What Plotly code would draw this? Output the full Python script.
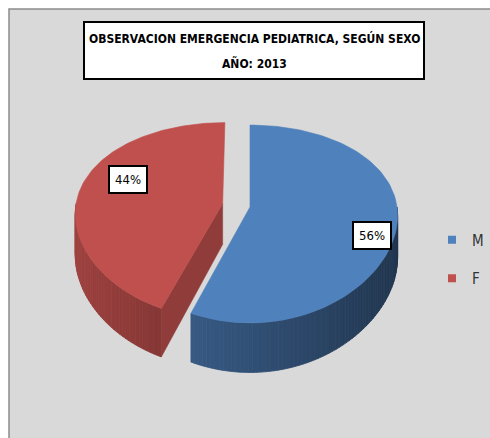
import numpy as np
import plotly.graph_objects as go

# ---- data ----
categories = ["M", "F"]
values = [56, 44]
slice_colors = ["#4F81BD", "#C0504D"]
explode = [0.0, 0.19]
title_lines = ["OBSERVACION EMERGENCIA PEDIATRICA, SEGÚN SEXO", "AÑO: 2013"]

# ---- page / geometry constants (pixel space of the window) ----
W, H = 490, 438
CX, CY = 250.0, 207.0
RX, RY = 147.0, 96.0
DEP = 41.0
KX, KY = 0.09, 0.172
FONT_N = "DejaVu Sans Condensed, Liberation Sans Narrow, sans-serif"


def proj(X, Z, Hh):
    X = np.asarray(X, float)
    Z = np.asarray(Z, float)
    x = CX + RX * X / (1 + KX * Z)
    y = CY + (-RY * Z + DEP * Hh) / (1 + KY * Z)
    return x, y


def hex2rgb(h):
    h = h.lstrip("#")
    return tuple(int(h[i:i + 2], 16) for i in (0, 2, 4))


def shade(h, f):
    r, g, b = hex2rgb(h)
    return "rgb(%d,%d,%d)" % (round(r * f), round(g * f), round(b * f))


total = float(sum(values))
fracs = [v / total for v in values]
starts = np.cumsum([0] + fracs[:-1]) * 360
ends = starts + np.array(fracs) * 360

slices = []
for i, cat in enumerate(categories):
    a, b = starts[i], ends[i]
    mid = np.radians((a + b) / 2)
    ox, oz = explode[i] * np.sin(mid), explode[i] * np.cos(mid)
    slices.append(dict(cat=cat, a=a, b=b, mid=mid, ox=ox, oz=oz,
                       color=slice_colors[i], val=values[i],
                       depth=oz + 0.5 * np.cos(mid)))

fig = go.Figure()


def poly(xs, ys, color, lw=0.6):
    fig.add_trace(go.Scatter(x=list(xs) + [xs[0]], y=list(ys) + [ys[0]],
                             mode="lines", fill="toself", fillcolor=color,
                             line=dict(color=color, width=lw),
                             hoverinfo="skip", showlegend=False))


# draw back to front
for s in sorted(slices, key=lambda d: -d["depth"]):
    a, b, ox, oz, col = s["a"], s["b"], s["ox"], s["oz"], s["color"]
    # outer curved side (front half only), shaded strips
    lo, hi = max(a, 90), min(b, 270)
    if hi > lo:
        n = max(2, int((hi - lo) / 1.5))
        th = np.linspace(lo, hi, n + 1)
        for j in range(n):
            t1, t2 = np.radians(th[j]), np.radians(th[j + 1])
            tm = 0.5 * (t1 + t2)
            X = [ox + np.sin(t1), ox + np.sin(t2)]
            Z = [oz + np.cos(t1), oz + np.cos(t2)]
            xt, yt = proj(X, Z, 0)
            xb, yb = proj(X, Z, 1)
            f = 0.62 - 0.21 * np.sin(tm)
            poly([xt[0], xt[1], xb[1], xb[0]], [yt[0], yt[1], yb[1], yb[0]], shade(col, f), 0.8)
    # radial cut faces
    for ang, sign in ((a, 1), (b, -1)):
        r = np.radians(ang)
        visible = (np.sin(r) < -1e-9) if sign == 1 else (np.sin(r) > 1e-9)
        if visible:
            X = [ox, ox + np.sin(r)]
            Z = [oz, oz + np.cos(r)]
            xt, yt = proj(X, Z, 0)
            xb, yb = proj(X, Z, 1)
            poly([xt[0], xt[1], xb[1], xb[0]], [yt[0], yt[1], yb[1], yb[0]], shade(col, 0.75))
    # top face
    th = np.radians(np.linspace(a, b, 120))
    X = np.concatenate([[ox], ox + np.sin(th)])
    Z = np.concatenate([[oz], oz + np.cos(th)])
    xt, yt = proj(X, Z, 0)
    poly(xt, yt, col)

# data labels
label_nudge = {"M": (5, 14), "F": (19, -10)}
annotations = []
for s in slices:
    X = s["ox"] + 0.8 * np.sin(s["mid"])
    Z = s["oz"] + 0.8 * np.cos(s["mid"])
    lx, ly = proj([X], [Z], 0)
    dx, dy = label_nudge[s["cat"]]
    annotations.append(dict(x=float(lx[0]) + dx, y=float(ly[0]) + dy, xref="x", yref="y",
                            text="%d%%" % round(s["val"] / total * 100), showarrow=False,
                            font=dict(family=FONT_N, size=13, color="#000000"),
                            bgcolor="#FFFFFF", bordercolor="#000000", borderwidth=2,
                            borderpad=5))

# title
for t, yy in zip(title_lines, [38.5, 63.5]):
    annotations.append(dict(x=254, y=yy, xref="x", yref="y", text="<b>%s</b>" % t,
                            showarrow=False,
                            font=dict(family=FONT_N, size=12, color="#000000")))

# legend entries
for cat, col in zip(categories, slice_colors):
    fig.add_trace(go.Scatter(x=[None], y=[None], mode="markers", name=cat,
                             marker=dict(symbol="square", size=8, color=col),
                             legendgroup=cat, showlegend=True))

fig.update_layout(
    width=W, height=H,
    margin=dict(l=0, r=0, t=0, b=0),
    paper_bgcolor="#FFFFFF", plot_bgcolor="rgba(0,0,0,0)",
    xaxis=dict(range=[0, W], visible=False, fixedrange=True),
    yaxis=dict(range=[H, 0], visible=False, fixedrange=True),
    showlegend=True,
    legend=dict(x=432 / W, y=1 - 259 / H, xanchor="left", yanchor="middle",
                bgcolor="rgba(0,0,0,0)", tracegroupgap=16,
                font=dict(family=FONT_N, size=15, color="#333333")),
    shapes=[
        dict(type="rect", xref="x", yref="y", x0=9, x1=500, y0=9, y1=450,
             fillcolor="#D9D9D9", line=dict(color="#8C8C8C", width=1.5), layer="below"),
        dict(type="rect", xref="x", yref="y", x0=84, x1=424, y0=22, y1=79,
             fillcolor="#FFFFFF", line=dict(color="#000000", width=2), layer="below"),
    ],
    annotations=annotations,
)

fig.write_html("out.html", config={"displayModeBar": False},
               post_script="document.body.style.margin='0';document.body.style.overflow='hidden';")
